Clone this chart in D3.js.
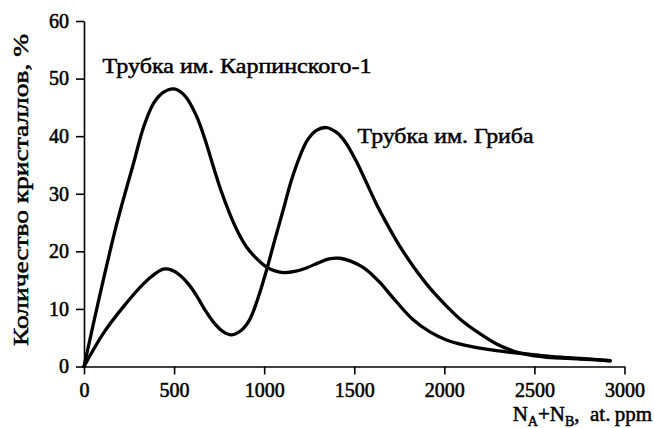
<!DOCTYPE html>
<html>
<head>
<meta charset="utf-8">
<script src="https://cdn.jsdelivr.net/npm/d3@7"></script>
<style>
  html, body { margin: 0; padding: 0; background: #fff; }
  svg { display: block; }
</style>
</head>
<body>
<svg id="chart" width="654" height="428"></svg>
<script>
// Crystal share vs. nitrogen content (N_A + N_B, at. ppm)
const karpinskyX = [0, 90, 182, 275, 331, 386, 440, 500, 560, 623, 670, 716, 760, 808, 860, 901, 950, 1012, 1060, 1110, 1170, 1234, 1300, 1360, 1420, 1480, 1549, 1600, 1642, 1735, 1827, 1920, 2012, 2100, 2197, 2300, 2419, 2540, 2660, 2800, 2920];
const karpinskyY = [0, 12.7, 24.8, 35.3, 41.6, 45.7, 47.6, 48.2, 47.0, 43.6, 39.6, 34.9, 30.6, 26.6, 23.0, 20.8, 19.0, 17.3, 16.6, 16.3, 16.5, 17.1, 18.0, 18.7, 18.8, 18.3, 17.2, 15.9, 14.6, 11.2, 8.1, 6.0, 4.6, 3.8, 3.2, 2.7, 2.3, 1.9, 1.6, 1.3, 1.0];

const gribX = [0, 108, 219, 331, 390, 440, 490, 531, 580, 623, 670, 716, 770, 820, 870, 919, 965, 1012, 1060, 1104, 1150, 1197, 1240, 1290, 1345, 1400, 1450, 1512, 1568, 1620, 1679, 1743, 1827, 1920, 2012, 2100, 2197, 2290, 2382, 2470, 2568, 2750, 2920];
const gribY = [0, 5.8, 10.4, 14.4, 16.0, 16.9, 16.7, 15.9, 14.3, 12.4, 9.9, 7.8, 6.1, 5.5, 6.2, 8.1, 11.8, 16.6, 22.1, 27.0, 32.2, 36.4, 39.3, 41.0, 41.5, 40.7, 39.0, 35.6, 31.9, 28.4, 24.9, 21.4, 17.4, 13.6, 10.5, 7.9, 5.7, 3.9, 2.7, 2.0, 1.6, 1.3, 1.0];

const xTicks = [0, 500, 1000, 1500, 2000, 2500, 3000];
const yTicks = [0, 10, 20, 30, 40, 50, 60];

const seriesNames = ["Трубка им. Карпинского-1", "Трубка им. Гриба"];
const yTitle = "Количество кристаллов, %";

const FONT = '"Liberation Serif", Tinos, "Times New Roman", Times, serif';

const svg = d3.select("#chart");

const x = d3.scaleLinear().domain([0, 3000]).range([84, 624.5]);
const y = d3.scaleLinear().domain([0, 60]).range([366.5, 21]);

// x axis
const gx = svg.append("g")
  .attr("transform", `translate(0,${y(0)})`)
  .call(d3.axisBottom(x).tickValues(xTicks).tickFormat(d3.format("d"))
        .tickSize(8).tickSizeOuter(0).tickPadding(8));

// y axis
const gy = svg.append("g")
  .attr("transform", `translate(${x(0)},0)`)
  .call(d3.axisLeft(y).tickValues(yTicks).tickFormat(d3.format("d"))
        .tickSize(8).tickSizeOuter(0).tickPadding(7));

[gx, gy].forEach(g => {
  g.attr("font-family", FONT).attr("font-size", 20);
  g.select(".domain").attr("stroke", "#000").attr("stroke-width", 1.6);
  g.selectAll(".tick line").attr("stroke", "#000").attr("stroke-width", 1.6);
  g.selectAll(".tick text")
    .attr("fill", "#000")
    .attr("stroke", "#000")
    .attr("stroke-width", 0.55);
});

// curves
const line = d3.line()
  .x(d => x(d[0]))
  .y(d => y(d[1]))
  .curve(d3.curveCatmullRom.alpha(0.5));

const series = [
  d3.zip(karpinskyX, karpinskyY),
  d3.zip(gribX, gribY)
];

svg.append("g").selectAll("path")
  .data(series)
  .join("path")
  .attr("d", line)
  .attr("fill", "none")
  .attr("stroke", "#000")
  .attr("stroke-width", 3.3)
  .attr("stroke-linejoin", "round")
  .attr("stroke-linecap", "round");

const labels = svg.append("g")
  .attr("font-family", FONT)
  .attr("fill", "#000")
  .attr("stroke", "#000")
  .attr("stroke-width", 0.5);

// curve labels
labels.append("text")
  .attr("x", 102.5).attr("y", 72.5)
  .attr("textLength", 269).attr("lengthAdjust", "spacingAndGlyphs")
  .attr("font-size", 22)
  .text(seriesNames[0]);

labels.append("text")
  .attr("x", 357.5).attr("y", 142.5)
  .attr("textLength", 176).attr("lengthAdjust", "spacingAndGlyphs")
  .attr("font-size", 22)
  .text(seriesNames[1]);

// y axis title
labels.append("text")
  .attr("transform", "translate(28,190) rotate(-90)")
  .attr("text-anchor", "middle")
  .attr("textLength", 312).attr("lengthAdjust", "spacingAndGlyphs")
  .attr("font-size", 22)
  .text(yTitle);

// x axis title with subscripts
const xt = labels.append("text")
  .attr("x", 652).attr("y", 420.5)
  .attr("text-anchor", "end")
  .attr("font-size", 21);
xt.append("tspan").text("N");
xt.append("tspan").attr("dy", 5).attr("font-size", 14).text("A");
xt.append("tspan").attr("dy", -5).text("+N");
xt.append("tspan").attr("dy", 5).attr("font-size", 14).text("B");
xt.append("tspan").attr("dy", -5).text(",\u00A0 at.\u2009ppm");
</script>
</body>
</html>
